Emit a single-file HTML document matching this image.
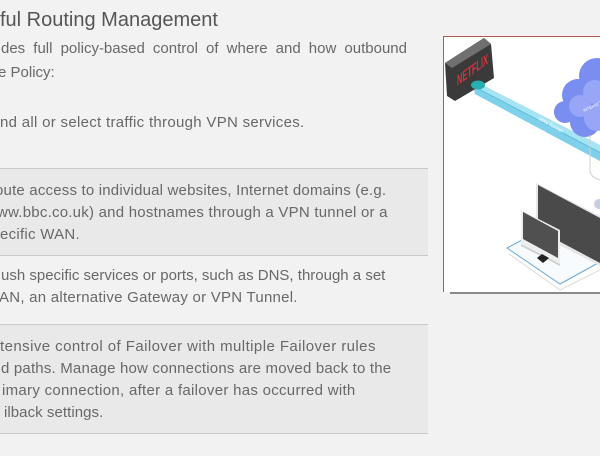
<!DOCTYPE html>
<html>
<head>
<meta charset="utf-8">
<style>
  html, body { margin: 0; padding: 0; }
  body {
    width: 600px; height: 456px; overflow: hidden; position: relative;
    background: #f2f2f2;
    font-family: "Liberation Sans", "DejaVu Sans", sans-serif;
  }
  .t {
    position: absolute; white-space: nowrap;
    font-size: 15px; line-height: 22px; color: #686868;
  }
  .h {
    position: absolute; white-space: nowrap;
    font-size: 20px; line-height: 20px; color: #555;
  }
  .box {
    position: absolute; left: 0; width: 428px;
    background: #e9e9e9;
    border-top: 1px solid #c9c9c9;
    border-bottom: 1px solid #c9c9c9;
  }
  svg { position: absolute; left: 0; top: 0; }
</style>
</head>
<body>
  <div class="box" style="top:168px;height:86px;"></div>
  <div class="box" style="top:324px;height:108px;"></div>

  <div class="h" style="left:0;top:10px;">ful Routing Management</div>

  <div class="t" style="left:1px;top:38px;width:406px;text-align:justify;text-align-last:justify;">des full policy-based control of where and how outbound</div>
  <div class="t" style="left:-2px;top:62px;">e Policy:</div>
  <div class="t" style="left:0;top:112px;letter-spacing:0.3px;">nd all or select traffic through VPN services.</div>

  <div class="t" style="left:-5px;top:180px;letter-spacing:0.19px;">oute access to individual websites, Internet domains (e.g.</div>
  <div class="t" style="left:-3px;top:202px;letter-spacing:0.23px;">ww.bbc.co.uk) and hostnames through a VPN tunnel or a</div>
  <div class="t" style="left:0;top:224px;letter-spacing:0.27px;">ecific WAN.</div>

  <div class="t" style="left:1px;top:265px;">ush specific services or ports, such as DNS, through a set</div>
  <div class="t" style="left:-1px;top:287px;letter-spacing:0.25px;">AN, an alternative Gateway or VPN Tunnel.</div>

  <div class="t" style="left:0;top:336px;letter-spacing:0.43px;">tensive control of Failover with multiple Failover rules</div>
  <div class="t" style="left:1px;top:358px;letter-spacing:0.19px;">d paths. Manage how connections are moved back to the</div>
  <div class="t" style="left:2px;top:380px;letter-spacing:0.29px;">imary connection, after a failover has occurred with</div>
  <div class="t" style="left:4px;top:402px;letter-spacing:0.06px;">ilback settings.</div>

  <svg width="600" height="456" viewBox="0 0 600 456" xmlns="http://www.w3.org/2000/svg">
    <!-- panel -->
    <rect x="443" y="36" width="157" height="256" fill="#ffffff"/>
    <rect x="450" y="292" width="150" height="2" fill="#8a8a8a"/>
    <line x1="443.5" y1="36" x2="443.5" y2="292" stroke="#b65a55" stroke-width="1"/>
    <line x1="443" y1="36.5" x2="600" y2="36.5" stroke="#b65a55" stroke-width="1"/>

    <!-- beam -->
    <polygon points="471,79 600,145 600,161 475,94" fill="#a6e3f3"/>
    <polygon points="474,87 600,153 600,161 475,94" fill="#7fd0ea"/>
    <line x1="474" y1="86.5" x2="600" y2="152.5" stroke="#4fb4d8" stroke-width="0.8"/>
    <text x="0" y="0" font-size="5" fill="#ffffff" font-family="Liberation Sans, sans-serif" transform="translate(538,120) rotate(28)">VPN Tunnel</text>

    <!-- netflix box -->
    <polygon points="445,63 484,38 491,44 494,78 455,101 447,96" fill="#3a3a3a"/>
    <polygon points="445,63 484,38 491,44 452,68" fill="#707070"/>
    <ellipse cx="478" cy="85" rx="7" ry="4.5" fill="#26aeb0"/>
    <text x="0" y="0" font-size="15" font-weight="bold" fill="#d2353d" font-family="Liberation Sans, sans-serif" textLength="31" lengthAdjust="spacingAndGlyphs" transform="translate(457,86) skewY(-36)">NETFLIX</text>

    <!-- cloud -->
    <g fill="#7a8ef2">
      <circle cx="565" cy="112" r="11"/>
      <circle cx="578" cy="95" r="16"/>
      <circle cx="597" cy="76" r="18"/>
      <circle cx="603" cy="105" r="22"/>
      <circle cx="585" cy="122" r="15"/>
    </g>
    <g fill="#97a6f6">
      <circle cx="580" cy="106" r="11"/>
      <circle cx="595" cy="92" r="12"/>
      <circle cx="597" cy="118" r="13"/>
    </g>
    <text x="0" y="0" font-size="4" fill="#ffffff" font-family="Liberation Sans, sans-serif" transform="translate(584,112) rotate(-25)">INTERNET</text>

    <!-- thin lines below cloud -->
    <path d="M590,135 L590,170 Q590,177 600,180" stroke="#cfcfcf" stroke-width="1" fill="none"/>
    <circle cx="599" cy="204" r="5" fill="#c8cde3"/>

    <!-- base plates -->
    <path d="M509,254 L560,290 L600,270" stroke="#dcdcdc" stroke-width="1" fill="none"/>
    <path d="M524,239 L507,248 L560,284 L600,262 L600,232" stroke="#6aa8d8" stroke-width="1" fill="#f7fbfe"/>

    <!-- big monitor -->
    <polygon points="536,183 600,216 600,266 536,233" fill="#e6e6e6"/>
    <polygon points="538,185 600,218 600,263 538,230" fill="#4a4a4a"/>

    <!-- small monitor -->
    <polygon points="521,210 560,230 560,264 521,244" fill="#eeeeee"/>
    <polygon points="523,212 558,231 558,258 523,239" fill="#505050"/>
    <polygon points="521,244 560,264 560,266 521,246" fill="#cfcfcf"/>

    <!-- keyboard block -->
    <polygon points="537,258 542,254 549,258 543,263" fill="#222222"/>
  </svg>
</body>
</html>
